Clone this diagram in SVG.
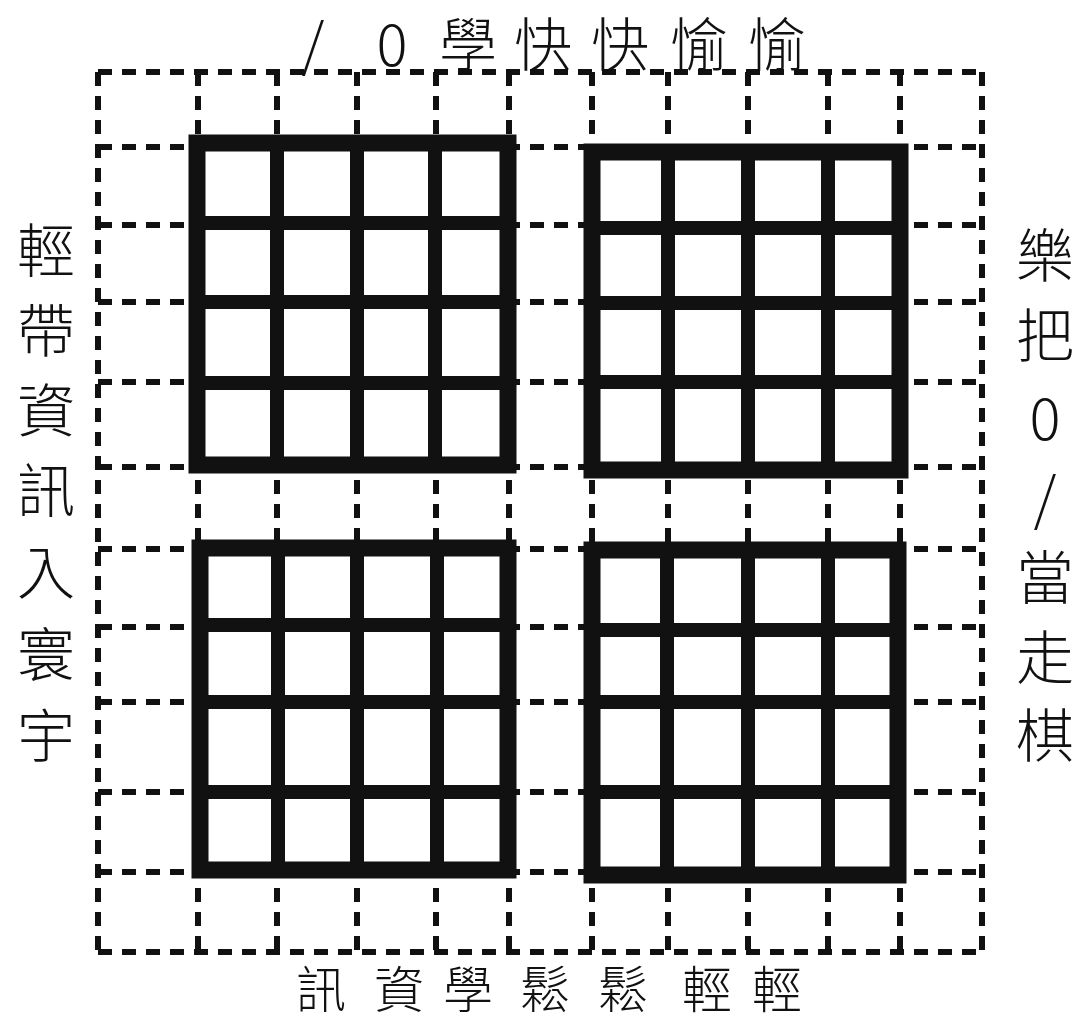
<svg xmlns="http://www.w3.org/2000/svg" width="1086" height="1027" viewBox="0 0 1086 1027">
<style>
.dash{stroke:#111;stroke-width:6;stroke-dasharray:14 10;fill:none;stroke-linecap:butt}
.in{stroke:#111;stroke-width:14;fill:none}
.out{stroke:#111;stroke-width:17;fill:none;stroke-linejoin:miter}
.t{font-family:"Noto Sans CJK TC","Noto Sans CJK SC",sans-serif;font-weight:300;fill:#111;text-anchor:middle}
.top{font-size:58px}
.side{font-size:58px}
.bot{font-size:50px}
</style>
<rect width="1086" height="1027" fill="#fff"/>
<g id="connectors">
<g id="dashed-grid">
<path class="dash" d="M98 72H982M98 147H982M98 225H982M98 302H982M98 382H982M98 467H982M98 549H982M98 627H982M98 702H982M98 792H982M98 872H982M98 952H982"/>
<path class="dash" d="M98 72V952M198 72V952M277 72V952M357 72V952M436 72V952M509 72V952M592 72V952M668 72V952M748 72V952M828 72V952M900 72V952M982 72V952"/>
</g>
</g>
<g id="grid-top-left">
<path class="in" d="M277 143V465M357 143V465M435 143V465M197 223H508M197 302H508M197 383H508"/>
<rect class="out" x="197" y="143" width="311" height="322"/>
</g>
<g id="grid-top-right">
<path class="in" d="M668 152V470M748 152V470M828 152V470M592 228H900M592 303H900M592 382H900"/>
<rect class="out" x="592" y="152" width="308" height="318"/>
</g>
<g id="grid-bottom-left">
<path class="in" d="M278 548V870M357 548V870M437 548V870M200 625H508M200 702H508M200 792H508"/>
<rect class="out" x="200" y="548" width="308" height="322"/>
</g>
<g id="grid-bottom-right">
<path class="in" d="M667 550V875M748 550V875M828 550V875M592 630H898M592 702H898M592 792H898"/>
<rect class="out" x="592" y="550" width="306" height="325"/>
</g>
<g id="text-top" class="t top">
<text x="313" y="66">/</text>
<text x="392" y="66">0</text>
<text x="468" y="66">學</text>
<text x="543" y="66">快</text>
<text x="620" y="66">快</text>
<text x="699" y="66">愉</text>
<text x="777" y="66">愉</text>
</g>
<g id="text-left" class="t side">
<text x="46" y="272">輕</text>
<text x="46" y="352">帶</text>
<text x="46" y="432">資</text>
<text x="46" y="512">訊</text>
<text x="46" y="594">入</text>
<text x="46" y="676">寰</text>
<text x="46" y="757">宇</text>
</g>
<g id="text-right" class="t side">
<text x="1045" y="277">樂</text>
<text x="1045" y="357">把</text>
<text x="1045" y="440">0</text>
<text x="1045" y="520">/</text>
<text x="1045" y="599">當</text>
<text x="1045" y="679">走</text>
<text x="1045" y="757">棋</text>
</g>
<g id="text-bottom" class="t bot">
<text x="321" y="1008">訊</text>
<text x="399" y="1008">資</text>
<text x="468" y="1008">學</text>
<text x="545" y="1008">鬆</text>
<text x="623" y="1008">鬆</text>
<text x="707" y="1008">輕</text>
<text x="777" y="1008">輕</text>
</g>
</svg>
